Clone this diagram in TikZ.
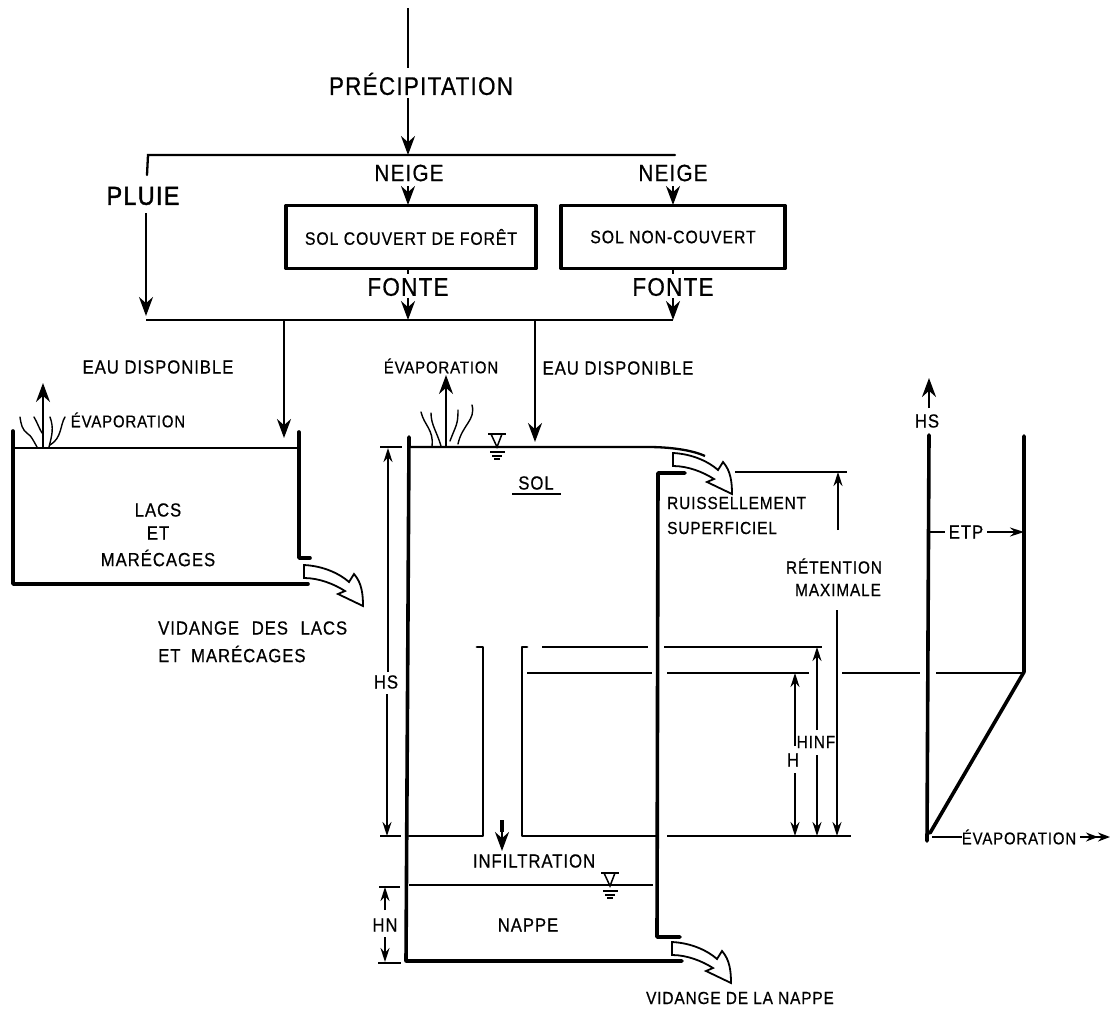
\documentclass[tikz,border=0pt]{standalone}
\usepackage{fontspec}
\setmainfont{Liberation Sans}
\newfontfamily\spaced[LetterSpace=5,FakeStretch=0.88,FakeBold=0.6]{Liberation Sans}
\newfontfamily\heavy[LetterSpace=5,FakeStretch=0.9,FakeBold=1.6]{Liberation Sans}
\usetikzlibrary{arrows.meta}
\tikzset{
  x=1pt,y=-1pt,
  thin line/.style={line width=1.5pt},
  mid line/.style={line width=2.3pt},
  wall/.style={line width=3.6pt,line cap=round,line join=round},
  fat/.style={line width=2.8pt,line cap=round,line join=round},
  lab/.style={inner sep=0pt,font=\spaced\fontsize{19}{19}\selectfont},
  small lab/.style={inner sep=0pt,font=\spaced\fontsize{17.5}{17.5}\selectfont},
  evap/.style={inner sep=0pt,font=\spaced\fontsize{17}{17}\selectfont},
  big/.style={inner sep=0pt,font=\spaced\fontsize{25.5}{25.5}\selectfont},
  tip/.style={-{Stealth[length=19pt,width=14pt]},mid line},
  dimtip/.style={-{Stealth[length=14pt,width=9pt]},thin line},
  spill/.pic={\draw[line width=1.8pt,fill=white,line join=miter]
    (0,0) .. controls (20,1) and (36,9) .. (45,17) -- (50,9) .. controls (58,18) and (59,30) .. (59,41)
    -- (34,29) -- (41,26) .. controls (30,19) and (15,13) .. (0,13) -- cycle;},
  wave/.style={line width=1.4pt,line cap=round},
  surface/.pic={\draw[line width=1.7pt] (-9,-13) -- (9,-13);
    \draw[line width=1.5pt] (-6,-13) -- (0,0) -- (5,-13);
    \draw[line width=1.3pt] (-7,5) -- (8,5) (-5,9) -- (5,9) (-3,12) -- (3,12);},
}
\begin{document}
\begin{tikzpicture}
\useasboundingbox (0,0) rectangle (1113,1009);
% top section
\node[big] (prec) at (421,84) {PRÉCIPITATION};
\coordinate (top) at (408,8);
\coordinate (split) at (408,155);
\draw[mid line] (top) -- (408,68);
\draw[tip] (408,98) -- (split);
\coordinate (barL) at (148,155);
\coordinate (barR) at (675,155);
\draw[mid line,line cap=round] (147,175) -- (barL) -- (barR);
\node[inner sep=0pt,font=\heavy\fontsize{26}{26}\selectfont] (pluie) at (143,196) {PLUIE};
\node[big,font=\spaced\fontsize{23.5}{23.5}\selectfont] (neigeA) at (409,173) {NEIGE};
\node[big,font=\spaced\fontsize{23.5}{23.5}\selectfont] (neigeB) at (673,173) {NEIGE};
\node[wall,draw,minimum width=250pt,minimum height=63pt,inner sep=0pt,font=\spaced\fontsize{18}{18}\selectfont] (forest) at (411,237) {SOL COUVERT DE FORÊT};
\node[wall,draw,minimum width=224pt,minimum height=63pt,inner sep=0pt,font=\spaced\fontsize{18}{18}\selectfont] (open) at (673,237) {SOL NON-COUVERT};
\node[big] (fonteA) at (408,287) {FONTE};
\node[big] (fonteB) at (673,287) {FONTE};
\coordinate (colA) at (408,320);
\coordinate (colB) at (673,320);
\coordinate (colL) at (146,320);
\draw[tip] (408,186) -- (408,205);
\draw[tip] (673,186) -- (673,205);
\draw[mid line] (408,268) -- (408,274);
\draw[mid line] (673,268) -- (673,274);
\draw[tip] (408,298) -- (colA);
\draw[tip] (673,298) -- (colB);
\draw[tip] (146,213) -- (146,316);
\draw[mid line] (colL) -- (colB);
% lake
\node[lab] (eauA) at (158,367) {EAU DISPONIBLE};
\draw[tip] (284,320) -- (284,438);
\draw[wall] (13,431) -- (13,584) -- (308,584);
\draw[wall] (299,432) -- (299,558) -- (310,558);
\draw[mid line] (13,448) -- (299,448);
\draw[tip] (43,448) -- (43,383);
\draw[wave] (37,447) .. controls (32,438) and (31,436) .. (28,434) .. controls (22,430) and (21,424) .. (20,417);
\draw[wave] (42,433) .. controls (39,428) and (37,422) .. (34,417);
\draw[wave] (49,447) .. controls (52,435) and (54,428) .. (50,417);
\draw[wave] (50,445) .. controls (62,438) and (60,425) .. (65,417);
\node[evap] (evA) at (128,420) {ÉVAPORATION};
\node[lab] (lacs) at (158,510) {LACS};
\node[lab] (et) at (158,533) {ET};
\node[lab] (mar) at (158,558) {MARÉCAGES};
\pic at (304,565) {spill};
\node[lab,anchor=west] (vid1) at (158,628) {VIDANGE\hspace{7pt} DES\hspace{7pt} LACS};
\node[lab,anchor=west] (vid2) at (158,654) {ET\hspace{5pt} MARÉCAGES};
% soil column
\node[evap] (evB) at (441,366) {ÉVAPORATION};
\node[lab] (eauB) at (618,368) {EAU DISPONIBLE};
\draw[tip] (535,320) -- (535,442);
\draw[wall] (409,437) -- (406,961) -- (682,961);
\draw[wall] (685,473) -- (658,473) -- (657,937) -- (680,937);
\draw[mid line] (409,447) -- (648,447) .. controls (670,447) and (692,450) .. (705,456);
\draw[tip] (446,447) -- (446,375);
\draw[wave] (432,446) .. controls (434,430) and (424,425) .. (421,412);
\draw[wave] (441,446) .. controls (437,432) and (431,425) .. (431,413);
\draw[wave] (450,441) .. controls (456,425) and (458,425) .. (458,410);
\draw[wave] (458,444) .. controls (462,425) and (476,420) .. (472,405);
\pic at (497,447) {surface};
\node[lab] (sol) at (536,483) {SOL};
\draw[line width=1.5pt] (512,494) -- (561,494);
\pic at (673,453) {spill};
\node[small lab,anchor=west] (ruis) at (667,503) {RUISSELLEMENT};
\node[small lab,anchor=west] (sup) at (667,528) {SUPERFICIEL};
% inner tubes
\draw[fat] (477,647) -- (483,647) -- (483,836) -- (409,836);
\draw[fat] (527,647) -- (522,647) -- (522,836) -- (657,836);
\draw[mid line] (542,647) -- (648,647);
\draw[mid line] (664,647) -- (822,647);
\draw[mid line] (527,673) -- (652,673);
\draw[mid line] (667,673) -- (809,673);
\draw[mid line] (842,673) -- (920,673);
\draw[mid line] (936,673) -- (1024,673);
\draw[mid line] (667,836) -- (851,836);
\draw[mid line] (735,472) -- (847,472);
\node[lab] (inf) at (534,861) {INFILTRATION};
\draw[line width=3.4pt] (502,820) -- (502,832);
\draw[tip] (502,828) -- (502,851);
\draw[mid line] (409,885) -- (653,885);
\pic at (610,886) {surface};
\node[lab] (nappe) at (528,925) {NAPPE};
\node[small lab] (vidn) at (740,998) {VIDANGE DE LA NAPPE};
\pic at (672,942) {spill};
% dimensions left
\node[lab] (hs) at (386,682) {HS};
\draw[mid line] (380,447) -- (402,447);
\draw[mid line] (380,836) -- (401,836);
\draw[dimtip] (388,672) -- (388,448);
\draw[dimtip] (387,694) -- (387,836);
\node[lab] (hn) at (385,925) {HN};
\draw[mid line] (379,887) -- (400,887);
\draw[mid line] (378,963) -- (401,963);
\draw[dimtip] (385,910) -- (385,887);
\draw[dimtip] (385,937) -- (385,962);
% dimensions right
\node[small lab] (ret) at (834,566) {RÉTENTION};
\node[small lab] (max) at (838,590) {MAXIMALE};
\draw[dimtip] (838,530) -- (838,472);
\draw[dimtip] (837,610) -- (837,836);
\node[small lab] (hinf) at (816,742) {HINF};
\draw[dimtip] (817,730) -- (817,647);
\draw[dimtip] (817,755) -- (817,836);
\node[lab] (h) at (793,760) {H};
\draw[dimtip] (795,746) -- (795,673);
\draw[dimtip] (795,773) -- (795,836);
% ETP graph
\node[lab] (hsb) at (927,421) {HS};
\draw[tip] (929,408) -- (929,378);
\draw[wall] (929,435) -- (927,841);
\draw[wall] (1024,436) -- (1024,672) -- (930,833);
\node[lab] (etp) at (966,532) {ETP};
\draw[thin line] (930,532) -- (945,532);
\draw[dimtip] (987,532) -- (1024,532);
\node[evap] (evC) at (1019,837) {ÉVAPORATION};
\draw[thin line] (932,837) -- (962,837);
\draw[-{Stealth[length=12pt,width=9pt]Stealth[length=12pt,width=9pt]},thin line] (1080,837) -- (1110,837);
\end{tikzpicture}
\end{document}
